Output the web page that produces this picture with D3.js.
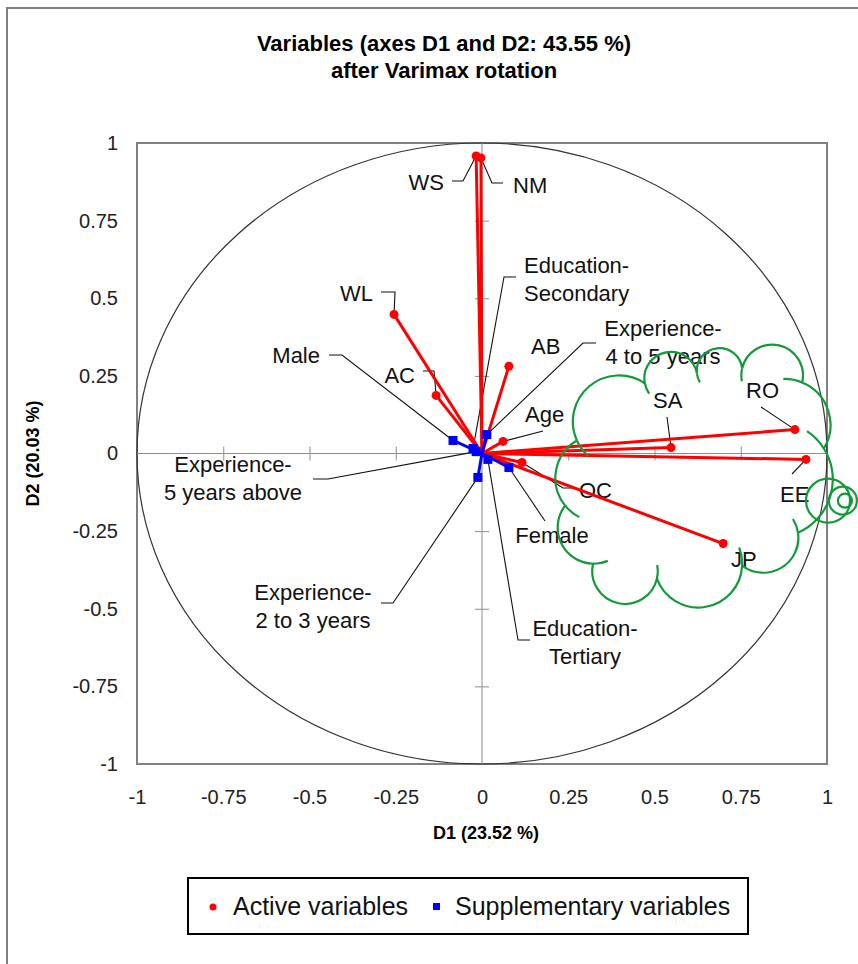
<!DOCTYPE html>
<html>
<head>
<meta charset="utf-8">
<script src="https://cdn.jsdelivr.net/npm/d3@7"></script>
<style>
  body { margin: 0; background: #fff; }
  svg { display: block; font-family: "Liberation Sans", Arial, sans-serif; }
</style>
</head>
<body>
<div id="chart"></div>
<script>
// active variables (red)
const activeNames = ["WS", "NM", "WL", "AC", "AB", "Age", "SA", "RO", "EE", "OC", "JP"];
const activeD1 = [-0.017, -0.003, -0.255, -0.133, 0.078, 0.061, 0.548, 0.907, 0.939, 0.116, 0.699];
const activeD2 = [0.958, 0.952, 0.448, 0.187, 0.281, 0.039, 0.019, 0.077, -0.019, -0.029, -0.290];

// supplementary variables (blue)
const supNames = ["Male", "Female", "Education-Secondary", "Education-Tertiary",
  "Experience-2 to 3 years", "Experience-4 to 5 years", "Experience-5 years above"];
const supD1 = [-0.084, 0.078, -0.026, 0.017, -0.012, 0.014, -0.017];
const supD2 = [0.042, -0.045, 0.016, -0.019, -0.077, 0.061, 0.006];

const tickValues = [-1, -0.75, -0.5, -0.25, 0, 0.25, 0.5, 0.75, 1];
const tickLabels = ["-1", "-0.75", "-0.5", "-0.25", "0", "0.25", "0.5", "0.75", "1"];

const titleLines = ["Variables (axes D1 and D2: 43.55 %)", "after Varimax rotation"];
const xTitle = "D1 (23.52 %)";
const yTitle = "D2 (20.03 %)";
const legendLabels = ["Active variables", "Supplementary variables"];

// label placement (pixels), leader knees go from label towards the point
const labelLayout = {
  "WS": { x: 444, y: 190, anchor: "end", leader: [[452, 181], [463, 181]] },
  "NM": { x: 513, y: 193, anchor: "start", leader: [[503, 183], [492, 183]] },
  "WL": { x: 373, y: 301, anchor: "end", leader: [[381, 292], [395, 292]] },
  "AC": { x: 415, y: 383, anchor: "end", leader: [[423, 371], [434, 371]] },
  "AB": { x: 531, y: 354, anchor: "start", leader: [] },
  "Age": { x: 525, y: 422, anchor: "start", leader: [[543, 431]] },
  "SA": { x: 653, y: 408, anchor: "start", leader: [[667, 417]] },
  "RO": { x: 746, y: 398, anchor: "start", leader: [[761, 407]] },
  "EE": { x: 780, y: 502, anchor: "start", leader: [[792, 474]] },
  "OC": { x: 579, y: 498, anchor: "start", leader: [[576, 488], [563, 488]] },
  "JP": { x: 731, y: 567, anchor: "start", leader: [] },
  "Male": { x: 320, y: 363, anchor: "end", leader: [[329, 355], [342, 355]] },
  "Female": { x: 552, y: 543, anchor: "middle", leader: [[545, 521]] },
  "Education-Secondary": { x: 524, y: 273, anchor: "start", leader: [[516, 277], [504, 277]] },
  "Education-Tertiary": { x: 585, y: 636, anchor: "middle", leader: [[530, 640], [518, 640]] },
  "Experience-2 to 3 years": { x: 313, y: 600, anchor: "middle", leader: [[381, 603], [393, 603]] },
  "Experience-4 to 5 years": { x: 663, y: 336, anchor: "middle", leader: [[596, 343], [583, 343]] },
  "Experience-5 years above": { x: 233, y: 472, anchor: "middle", leader: [[313, 479], [328, 479]] }
};

const width = 858;
const height = 964;

const svg = d3.select("#chart").append("svg")
  .attr("width", width)
  .attr("height", height);

// outer frame (only top/left visible)
svg.append("rect")
  .attr("x", 7).attr("y", 8)
  .attr("width", 880).attr("height", 990)
  .attr("fill", "none")
  .attr("stroke", "#7f7f7f")
  .attr("stroke-width", 2);

const x = d3.scaleLinear().domain([-1, 1]).range([137, 827]);
const y = d3.scaleLinear().domain([-1, 1]).range([764, 143]);

// title
svg.append("text")
  .attr("x", 444).attr("y", 51)
  .attr("text-anchor", "middle")
  .attr("font-weight", "bold")
  .attr("font-size", 22)
  .selectAll("tspan")
  .data(titleLines)
  .enter().append("tspan")
  .attr("x", 444)
  .attr("dy", (d, i) => i === 0 ? 0 : 27)
  .text(d => d);

// plot box
svg.append("rect")
  .attr("x", x(-1)).attr("y", y(1))
  .attr("width", x(1) - x(-1)).attr("height", y(-1) - y(1))
  .attr("fill", "none")
  .attr("stroke", "#808080")
  .attr("stroke-width", 2);

// correlation circle
svg.append("ellipse")
  .attr("cx", x(0)).attr("cy", y(0))
  .attr("rx", x(1) - x(0)).attr("ry", y(0) - y(1))
  .attr("fill", "none")
  .attr("stroke", "#333")
  .attr("stroke-width", 1.2);

// outer tick labels
const yAxis = svg.append("g")
  .attr("transform", `translate(${x(-1)},0)`)
  .call(d3.axisLeft(y).tickValues(tickValues).tickFormat((d, i) => tickLabels[i]).tickSize(0).tickPadding(19));
const xAxis = svg.append("g")
  .attr("transform", `translate(0,${y(-1)})`)
  .call(d3.axisBottom(x).tickValues(tickValues).tickFormat((d, i) => tickLabels[i]).tickSize(0).tickPadding(26));
[xAxis, yAxis].forEach(g => {
  g.select(".domain").remove();
  g.selectAll("text")
    .attr("font-family", "Liberation Sans, Arial, sans-serif")
    .attr("font-size", 20)
    .attr("fill", "#222");
});

// axes through the origin with crossing ticks
const inner = tickValues.filter(v => v !== 0 && Math.abs(v) !== 1);
svg.append("line")
  .attr("x1", x(-1)).attr("x2", x(1))
  .attr("y1", y(0)).attr("y2", y(0))
  .attr("stroke", "#8c8c8c");
svg.append("line")
  .attr("x1", x(0)).attr("x2", x(0))
  .attr("y1", y(-1)).attr("y2", y(1))
  .attr("stroke", "#8c8c8c");
const hTicks = svg.append("g")
  .attr("transform", `translate(0,${y(0) - 7})`)
  .call(d3.axisBottom(x).tickValues(inner).tickSize(14).tickFormat(""));
const vTicks = svg.append("g")
  .attr("transform", `translate(${x(0) - 7},0)`)
  .call(d3.axisRight(y).tickValues(inner).tickSize(14).tickFormat(""));
[hTicks, vTicks].forEach(g => {
  g.select(".domain").remove();
  g.selectAll("line").attr("stroke", "#8c8c8c");
});

// axis titles
svg.append("text")
  .attr("x", 486).attr("y", 839)
  .attr("text-anchor", "middle")
  .attr("font-weight", "bold")
  .attr("font-size", 18)
  .text(xTitle);
svg.append("text")
  .attr("transform", `translate(39,${y(0)}) rotate(-90)`)
  .attr("text-anchor", "middle")
  .attr("font-weight", "bold")
  .attr("font-size", 18)
  .text(yTitle);

const active = activeNames.map((n, i) => ({ name: n, d1: activeD1[i], d2: activeD2[i] }));
const sup = supNames.map((n, i) => ({ name: n, d1: supD1[i], d2: supD2[i] }));

// leader lines
const leaders = svg.append("g");
const labels = svg.append("g").attr("font-size", 22).attr("fill", "#111");

active.concat(sup).forEach(d => {
  const lay = labelLayout[d.name];
  if (lay.leader.length) {
    const pts = lay.leader.concat([[x(d.d1), y(d.d2)]]);
    leaders.append("path")
      .attr("d", d3.line()(pts))
      .attr("fill", "none")
      .attr("stroke", "#111")
      .attr("stroke-width", 1.1);
  }
  const lines = d.name.replace(/-(.)/, "-\n$1").split("\n");
  labels.append("text")
    .attr("x", lay.x).attr("y", lay.y)
    .attr("text-anchor", lay.anchor)
    .selectAll("tspan")
    .data(lines)
    .enter().append("tspan")
    .attr("x", lay.x)
    .attr("dy", (t, i) => i === 0 ? 0 : 28)
    .text(t => t);
});

// vectors: active
const actG = svg.append("g");
actG.selectAll("line")
  .data(active)
  .enter().append("line")
  .attr("x1", x(0)).attr("y1", y(0))
  .attr("x2", d => x(d.d1)).attr("y2", d => y(d.d2))
  .attr("stroke", "#ff0000")
  .attr("stroke-width", 3);
actG.selectAll("circle")
  .data(active)
  .enter().append("circle")
  .attr("cx", d => x(d.d1)).attr("cy", d => y(d.d2))
  .attr("r", 4.5)
  .attr("fill", "#ff0000");

// vectors: supplementary
const supG = svg.append("g");
supG.selectAll("line")
  .data(sup)
  .enter().append("line")
  .attr("x1", x(0)).attr("y1", y(0))
  .attr("x2", d => x(d.d1)).attr("y2", d => y(d.d2))
  .attr("stroke", "#0000ff")
  .attr("stroke-width", 3);
supG.selectAll("rect")
  .data(sup)
  .enter().append("rect")
  .attr("x", d => x(d.d1) - 4.5).attr("y", d => y(d.d2) - 4.5)
  .attr("width", 9).attr("height", 9)
  .attr("fill", "#0000ff");

// green cloud callout (annotation), anchors in chart units
const cloudX = [0.275, 0.472, 0.623, 0.754, 0.928, 0.991, 0.916, 0.754, 0.507, 0.322, 0.241];
const cloudY = [0.042, 0.226, 0.258, 0.274, 0.229, 0.016, -0.255, -0.361, -0.403, -0.355, -0.168];
const cloudBulge = [0.52, 0.5, 0.5, 0.5, 0.66, 0.66, 0.54, 0.51, 0.5, 0.56, 0.66];
const cloud = svg.append("g")
  .attr("fill", "none")
  .attr("stroke", "#139a3a")
  .attr("stroke-width", 2.2);
let cloudPath = "";
let hintPath = "";
cloudX.forEach((cx, i) => {
  const j = (i + 1) % cloudX.length;
  const x0 = x(cx), y0 = y(cloudY[i]);
  const x1 = x(cloudX[j]), y1 = y(cloudY[j]);
  const c = Math.hypot(x1 - x0, y1 - y0);
  const r = c * cloudBulge[i];
  if (i === 0) cloudPath += `M${x0},${y0}`;
  cloudPath += `A${r},${r} 0 0 1 ${x1},${y1}`;
  // small inner hook: the bump's circle continued past its start
  const h = Math.sqrt(Math.max(r * r - c * c / 4, 0));
  const ccx = (x0 + x1) / 2 - (y1 - y0) / c * h;
  const ccy = (y0 + y1) / 2 + (x1 - x0) / c * h;
  const a0 = Math.atan2(y0 - ccy, x0 - ccx) - 0.42;
  hintPath += `M${ccx + r * Math.cos(a0)},${ccy + r * Math.sin(a0)}A${r},${r} 0 0 1 ${x0},${y0}`;
});
cloud.append("path").attr("d", cloudPath);
cloud.append("path").attr("d", hintPath);
const tailX = [1.003, 1.046, 1.052];
const tailR = [22, 14, 7];
tailX.forEach((tx, i) => {
  cloud.append("circle")
    .attr("cx", x(tx)).attr("cy", y(-0.152))
    .attr("r", tailR[i]);
});

// legend
const legend = svg.append("g").attr("transform", "translate(188,878)");
legend.append("rect")
  .attr("width", 560).attr("height", 56)
  .attr("fill", "#fff")
  .attr("stroke", "#000")
  .attr("stroke-width", 2);
legend.append("circle")
  .attr("cx", 25).attr("cy", 29).attr("r", 3.5)
  .attr("fill", "#ff0000");
legend.append("rect")
  .attr("x", 245).attr("y", 25).attr("width", 7).attr("height", 7)
  .attr("fill", "#0000ff");
legend.selectAll("text.lg")
  .data(legendLabels)
  .enter().append("text")
  .attr("class", "lg")
  .attr("x", (d, i) => i === 0 ? 45 : 267)
  .attr("y", 37)
  .attr("font-size", 25)
  .attr("fill", "#111")
  .text(d => d);
</script>
</body>
</html>
